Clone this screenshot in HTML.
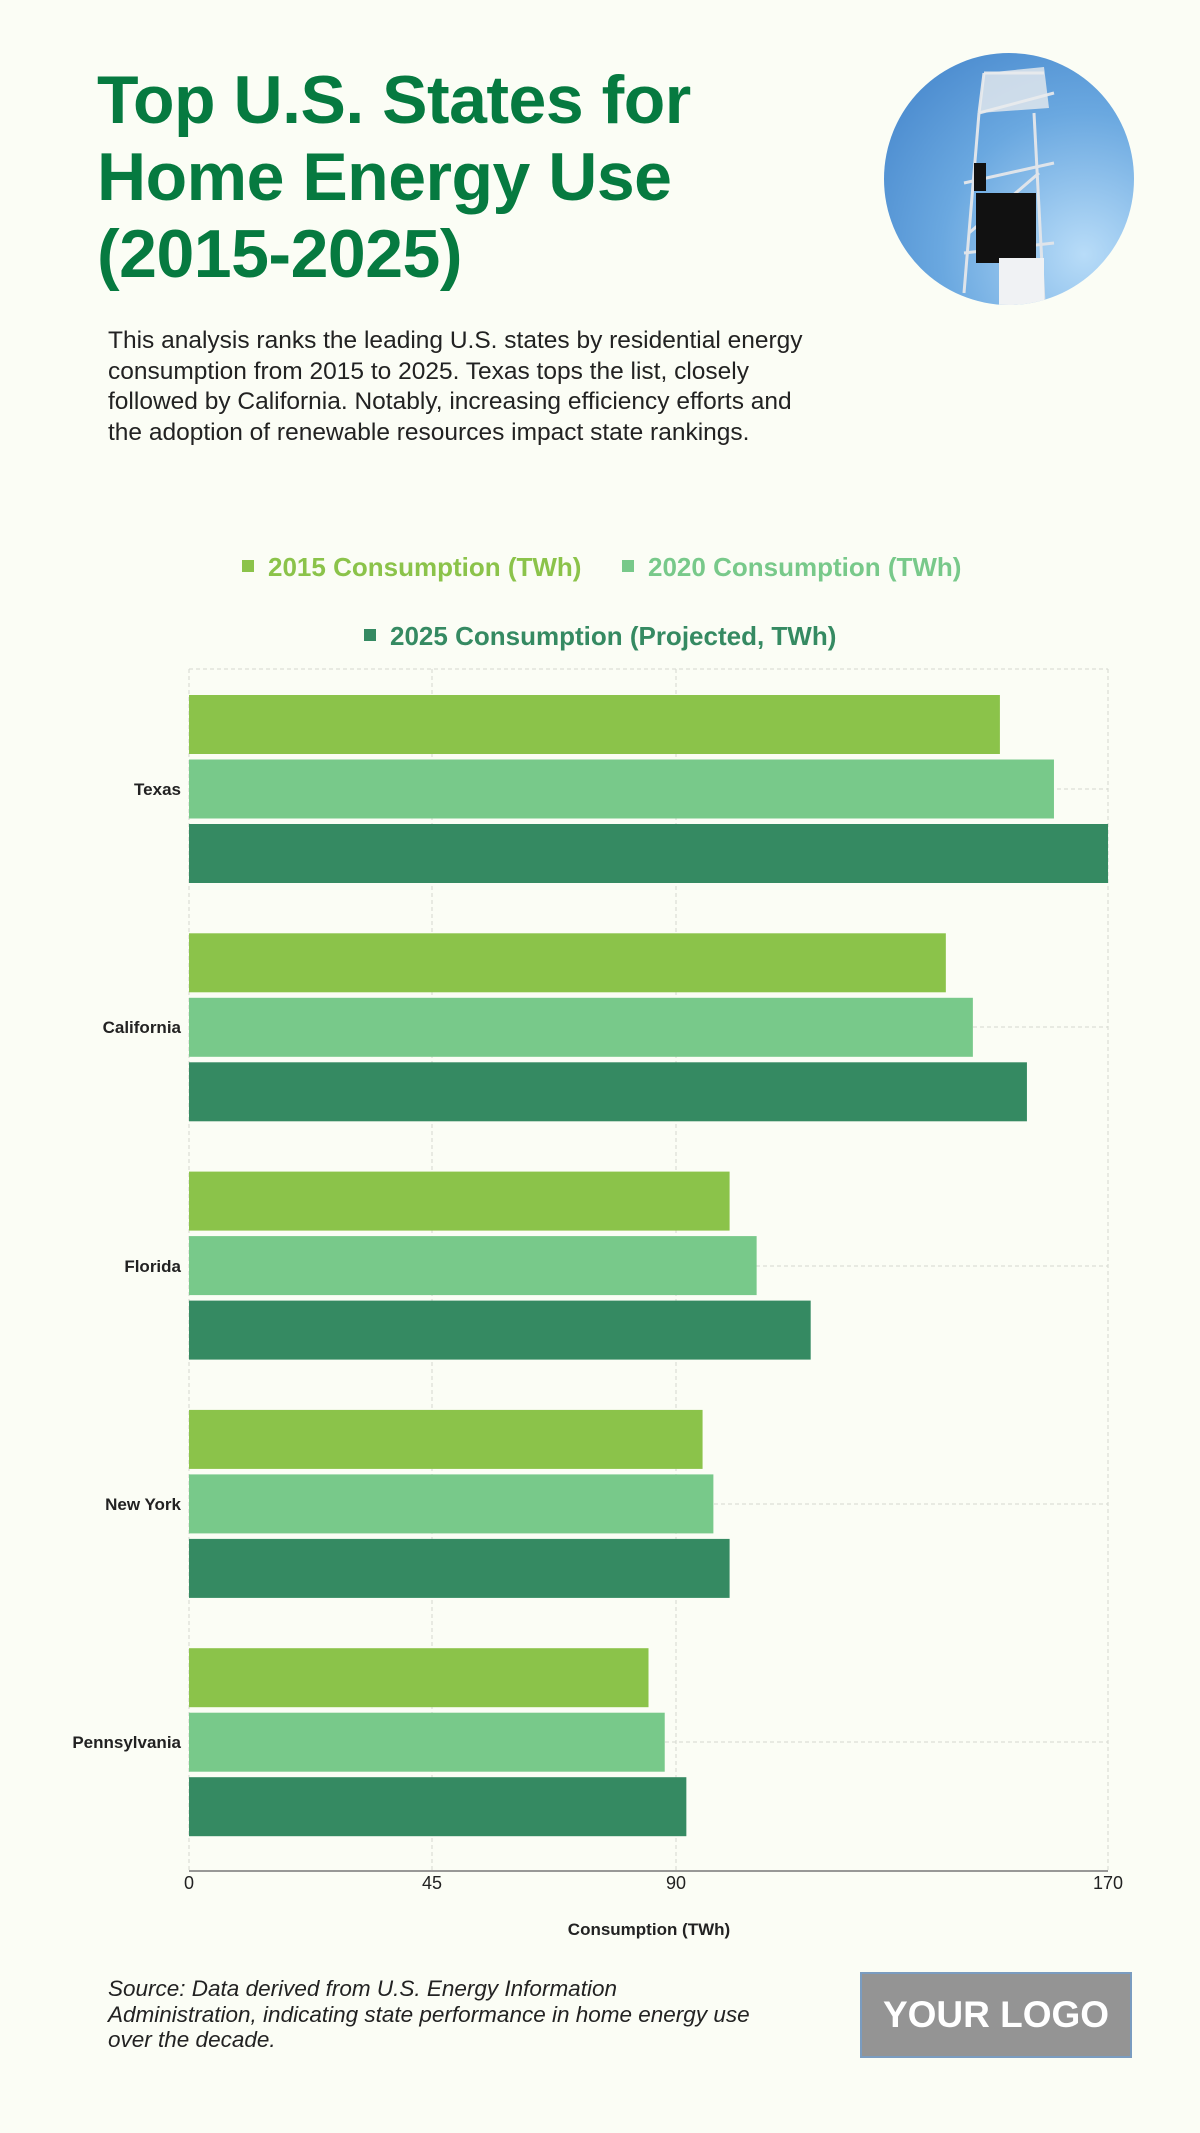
<!DOCTYPE html>
<html><head><meta charset="utf-8"><style>
body{margin:0;width:1200px;height:2133px;background:#fbfdf5;font-family:"Liberation Sans",sans-serif;position:relative;overflow:hidden}
.t{position:absolute;left:97px;top:62px;font-size:68px;font-weight:bold;color:#067a40;line-height:77px;letter-spacing:-0.5px}
.d{position:absolute;left:108px;top:326px;width:720px;font-size:24.5px;line-height:30.5px;color:#222}
.circ{position:absolute;left:884px;top:53px;width:250px;height:252px;border-radius:50%;overflow:hidden;background:radial-gradient(circle at 80% 80%,#b8dcf8,#6aa8e0 50%,#3f80c8)}
.lg{position:absolute;font-size:26px;font-weight:bold;white-space:nowrap}
.lg i{display:inline-block;width:12px;height:12px;margin-right:14px;vertical-align:middle;position:relative;top:-3px}
.src{position:absolute;left:108px;top:1976px;font-size:22.5px;font-style:italic;line-height:25.5px;color:#222;width:660px}
.logo{position:absolute;left:860px;top:1972px;width:272px;height:86px;background:#949494;border:2px solid #7a9cc0;box-sizing:border-box;color:#fff;font-weight:bold;font-size:37px;text-align:center;line-height:82px}
</style></head><body>
<div class="t">Top U.S. States for<br>Home Energy Use<br>(2015-2025)</div>
<div class="circ"><svg width="250" height="252" viewBox="0 0 250 252">
<g stroke="#dfe4ea" stroke-width="3" fill="none">
<line x1="80" y1="240" x2="95" y2="60"/><line x1="160" y1="250" x2="150" y2="60"/>
<line x1="95" y1="60" x2="170" y2="40"/><line x1="80" y1="130" x2="170" y2="110"/>
<line x1="80" y1="200" x2="170" y2="190"/><line x1="85" y1="180" x2="155" y2="120"/>
<line x1="100" y1="20" x2="160" y2="20"/><line x1="95" y1="60" x2="100" y2="20"/>
</g>
<polygon points="100,20 160,14 165,55 95,60" fill="#e8ebee" opacity="0.8"/>
<rect x="90" y="110" width="12" height="28" fill="#111"/>
<rect x="92" y="140" width="60" height="70" fill="#111"/>
<rect x="115" y="205" width="45" height="47" fill="#f0f2f4"/>
</svg></div>
<div class="d">This analysis ranks the leading U.S. states by residential energy consumption from 2015 to 2025. Texas tops the list, closely followed by California. Notably, increasing efficiency efforts and the adoption of renewable resources impact state rankings.</div>
<div class="lg" style="left:242px;top:552px;color:#8bc34a"><i style="background:#8bc34a"></i>2015 Consumption (TWh)</div>
<div class="lg" style="left:622px;top:552px;color:#78c98a"><i style="background:#78c98a"></i>2020 Consumption (TWh)</div>
<div class="lg" style="left:364px;top:621px;color:#358a62"><i style="background:#358a62"></i>2025 Consumption (Projected, TWh)</div>
<svg style="position:absolute;left:0;top:0" width="1200" height="2133">
<g stroke="#d4d8d0" stroke-dasharray="4,3" stroke-width="1">
<line x1="189" y1="669" x2="1108" y2="669"/>
<line x1="189" y1="669" x2="189" y2="1871"/><line x1="432" y1="669" x2="432" y2="1871"/>
<line x1="676" y1="669" x2="676" y2="1871"/><line x1="1108" y1="669" x2="1108" y2="1871"/>
<line x1="189" y1="789" x2="1108" y2="789"/><line x1="189" y1="1027" x2="1108" y2="1027"/>
<line x1="189" y1="1266" x2="1108" y2="1266"/><line x1="189" y1="1504" x2="1108" y2="1504"/>
<line x1="189" y1="1742" x2="1108" y2="1742"/>
</g>
<g id="bars"></g>
<line x1="189" y1="1871" x2="1108" y2="1871" stroke="#777" stroke-width="1.5"/>
<g font-size="17" font-weight="bold" fill="#222" text-anchor="end">
<text x="181" y="795">Texas</text><text x="181" y="1033">California</text><text x="181" y="1272">Florida</text><text x="181" y="1510">New York</text><text x="181" y="1748">Pennsylvania</text>
</g>
<g font-size="18" fill="#222" text-anchor="middle">
<text x="189" y="1889">0</text><text x="432" y="1889">45</text><text x="676" y="1889">90</text><text x="1108" y="1889">170</text>
</g>
<text x="649" y="1935" font-size="17" font-weight="bold" fill="#222" text-anchor="middle">Consumption (TWh)</text>
</svg>
<script>
var d=[[150,160,170],[140,145,155],[100,105,115],[95,97,100],[85,88,92]],c=["#8bc34a","#78c98a","#358a62"],s="";
for(var i=0;i<5;i++)for(var j=0;j<3;j++){var y=695+i*238.3+j*64.5;s+='<rect x="189" y="'+y+'" width="'+(d[i][j]*5.406)+'" height="59" fill="'+c[j]+'"/>';}
document.getElementById("bars").innerHTML=s;
</script>
<div class="src">Source: Data derived from U.S. Energy Information Administration, indicating state performance in home energy use over the decade.</div>
<div class="logo">YOUR LOGO</div>
</body></html>
